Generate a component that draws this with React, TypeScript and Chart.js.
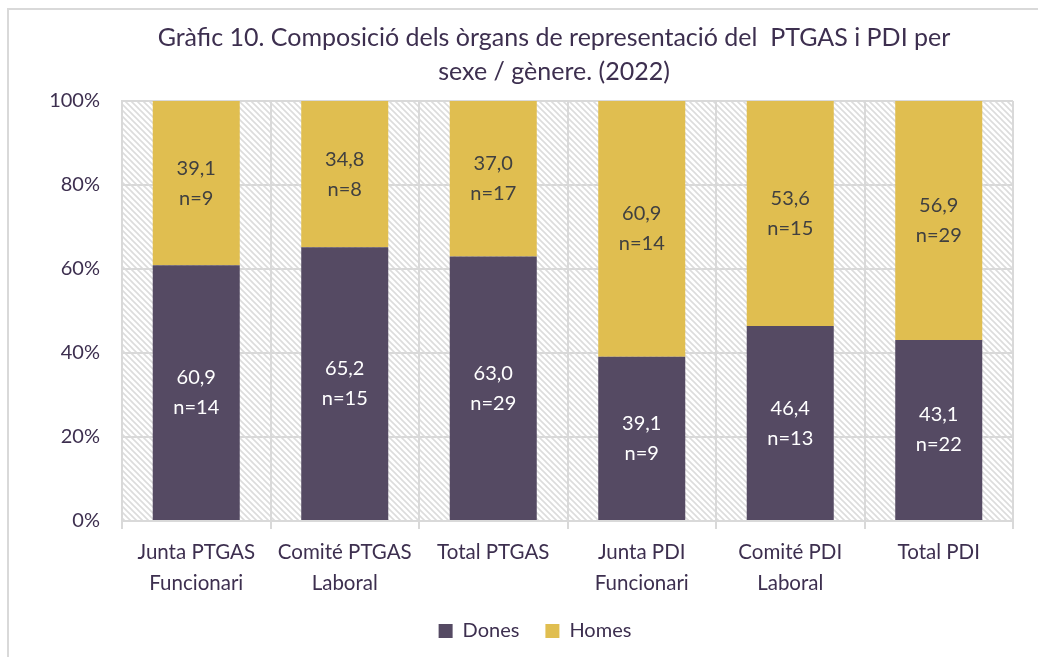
import React, { useEffect, useRef } from 'react';
import { Chart, registerables } from 'chart.js';

Chart.register(...registerables);

const categories: (string | string[])[] = [
  ['Junta PTGAS', 'Funcionari'],
  ['Comité PTGAS', 'Laboral'],
  'Total PTGAS',
  ['Junta PDI', 'Funcionari'],
  ['Comité PDI', 'Laboral'],
  'Total PDI',
];
const donesPct = [60.9, 65.2, 63.0, 39.1, 46.4, 43.1];
const homesPct = [39.1, 34.8, 37.0, 60.9, 53.6, 56.9];
const donesN = [14, 15, 29, 9, 13, 22];
const homesN = [9, 8, 17, 14, 15, 29];
const seriesNames = ['Dones', 'Homes'];
const titleLines = [
  'Gràfic 10. Composició dels òrgans de representació del  PTGAS i PDI per',
  'sexe / gènere. (2022)',
];

const FONT = 'Lato';
const TEXT = '#3d2f4f';
const GRID = '#d9d9d9';
const C_DONES = '#554a63';
const C_HOMES = '#e0be50';
const LABEL_COLORS = ['#ffffff', '#404040'];

export default function App() {
  const ref = useRef<HTMLCanvasElement | null>(null);

  useEffect(() => {
    const canvas = ref.current;
    if (!canvas) return;

    const S = 6;
    const tile = document.createElement('canvas');
    tile.width = S;
    tile.height = S;
    const tctx = tile.getContext('2d')!;
    tctx.fillStyle = '#ffffff';
    tctx.fillRect(0, 0, S, S);
    tctx.strokeStyle = '#dcdcdc';
    tctx.lineWidth = 1.6;
    tctx.beginPath();
    tctx.moveTo(-1, -1);
    tctx.lineTo(S + 1, S + 1);
    tctx.moveTo(-1, S - 1);
    tctx.lineTo(1, S + 1);
    tctx.moveTo(S - 1, -1);
    tctx.lineTo(S + 1, 1);
    tctx.stroke();

    const bgPlugin = {
      id: 'bg',
      afterLayout(chart: any) {
        const lg = chart.legend;
        if (lg) {
          lg.left += 12.5;
          lg.right += 12.5;
        }
      },
      beforeDraw(chart: any) {
        const { ctx, chartArea, width, height } = chart;
        ctx.save();
        ctx.fillStyle = '#ffffff';
        ctx.fillRect(0, 0, width, height);
        ctx.strokeStyle = GRID;
        ctx.lineWidth = 2;
        ctx.beginPath();
        ctx.moveTo(8, height);
        ctx.lineTo(8, 9);
        ctx.lineTo(width, 9);
        ctx.stroke();
        const pat = ctx.createPattern(tile, 'repeat');
        if (pat) {
          ctx.fillStyle = pat;
          ctx.fillRect(chartArea.left, chartArea.top, chartArea.right - chartArea.left, chartArea.bottom - chartArea.top);
        }
        // title
        ctx.fillStyle = TEXT;
        ctx.font = `25px ${FONT}`;
        ctx.textAlign = 'center';
        ctx.textBaseline = 'alphabetic';
        ctx.fillText(titleLines[0], 554, 46);
        ctx.fillText(titleLines[1], 554, 80);
        ctx.restore();
      },
    };

    const labelsPlugin = {
      id: 'segLabels',
      afterDatasetsDraw(chart: any) {
        const { ctx } = chart;
        ctx.save();
        ctx.font = `20px ${FONT}`;
        ctx.textAlign = 'center';
        ctx.textBaseline = 'middle';
        chart.data.datasets.forEach((ds: any, di: number) => {
          const meta = chart.getDatasetMeta(di);
          const counts = di === 0 ? donesN : homesN;
          ctx.fillStyle = LABEL_COLORS[di];
          meta.data.forEach((el: any, i: number) => {
            const { x, y, base } = el.getProps(['x', 'y', 'base'], true);
            const cy = (y + base) / 2;
            const v = (ds.data[i] as number).toFixed(1).replace('.', ',');
            ctx.fillText(v, x, cy - 15);
            ctx.fillText('n=' + counts[i], x, cy + 15);
          });
        });
        ctx.restore();
      },
    };

    const chart = new Chart(canvas, {
      type: 'bar',
      data: {
        labels: categories,
        datasets: [
          { label: seriesNames[0], data: donesPct, backgroundColor: C_DONES, borderWidth: 0 },
          { label: seriesNames[1], data: homesPct, backgroundColor: C_HOMES, borderWidth: 0 },
        ],
      },
      options: {
        animation: false,
        responsive: true,
        maintainAspectRatio: false,
        layout: { padding: { top: 101, left: 32, right: 25, bottom: 6 } },
        datasets: { bar: { categoryPercentage: 1, barPercentage: 0.586 } } as any,
        plugins: {
          title: { display: false },
          tooltip: { enabled: false },
          legend: {
            display: true,
            position: 'bottom',
            labels: {
              boxWidth: 14,
              boxHeight: 14,
              padding: 26,
              color: TEXT,
              font: { family: FONT, size: 20 },
            },
          },
        },
        scales: {
          x: {
            stacked: true,
            afterFit: (s: any) => { s.height = 74; },
            grid: { color: GRID, lineWidth: 2, offset: true, drawTicks: true, tickLength: 8, tickColor: GRID },
            border: { color: GRID, width: 2 },
            ticks: {
              color: TEXT,
              font: { family: FONT, size: 20.5, lineHeight: 1.5 },
              padding: 8,
              maxRotation: 0,
              autoSkip: false,
            },
          },
          y: {
            stacked: true,
            min: 0,
            max: 100,
            afterFit: (s: any) => { s.width = 90; },
            grid: { color: GRID, lineWidth: 2, drawTicks: false },
            border: { color: GRID, width: 2 },
            ticks: {
              stepSize: 20,
              color: TEXT,
              padding: 22,
              font: { family: FONT, size: 20 },
              callback: (v: any) => v + '%',
            },
          },
        },
      },
      plugins: [bgPlugin, labelsPlugin],
    });

    return () => chart.destroy();
  }, []);

  return (
    <div style={{ position: 'fixed', left: 0, top: 0, width: 1038, height: 657 }}>
      <canvas ref={ref} />
    </div>
  );
}
